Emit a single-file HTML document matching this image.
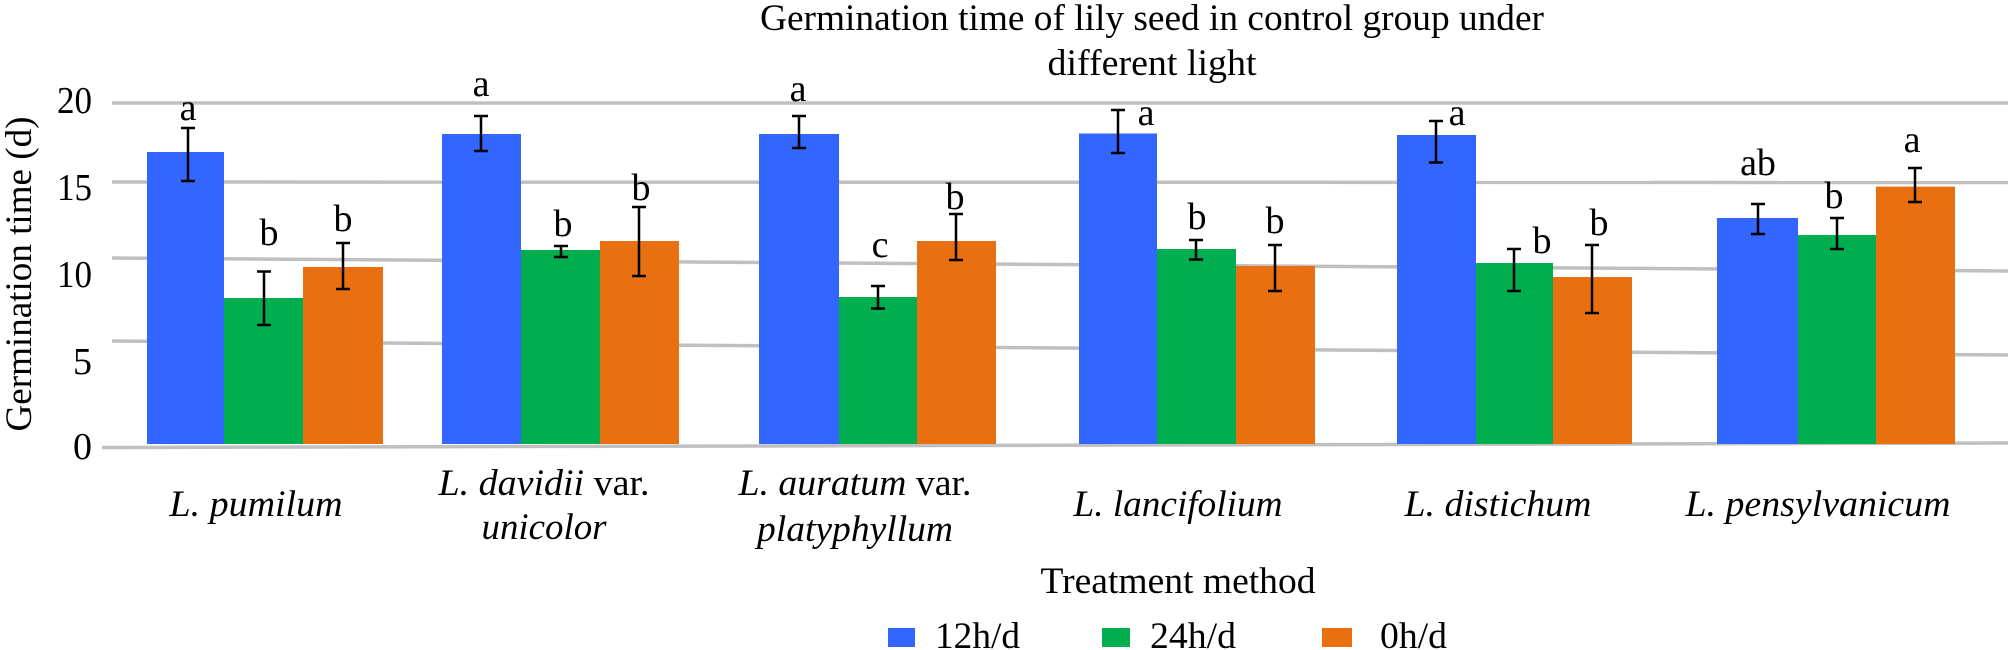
<!DOCTYPE html>
<html><head><meta charset="utf-8"><style>html,body{margin:0;padding:0;background:#fff}svg{display:block}text{font-family:"Liberation Serif",serif;fill:#000}</style></head>
<body>
<svg width="2008" height="650" viewBox="0 0 2008 650" xmlns="http://www.w3.org/2000/svg">
<g stroke="#c0c0c0" stroke-width="3.5">
<line x1="112" y1="103" x2="2008" y2="103"/>
<line x1="112" y1="182" x2="2008" y2="182.5"/>
<line x1="112" y1="258" x2="2008" y2="271"/>
<line x1="112" y1="341" x2="2008" y2="355"/>
<line x1="102" y1="447.5" x2="2008" y2="443"/>
</g>
<text x="1152" y="30" font-size="37" text-anchor="middle" textLength="784" lengthAdjust="spacingAndGlyphs">Germination time of lily seed in control group under</text>
<text x="1152" y="75" font-size="37" text-anchor="middle" textLength="209" lengthAdjust="spacingAndGlyphs">different light</text>
<g font-size="38" text-anchor="end">
<text x="92" y="113" textLength="35" lengthAdjust="spacingAndGlyphs">20</text><text x="92" y="200" textLength="35" lengthAdjust="spacingAndGlyphs">15</text><text x="92" y="287" textLength="35" lengthAdjust="spacingAndGlyphs">10</text><text x="92" y="374">5</text><text x="92" y="459">0</text>
</g>
<text transform="translate(31,274) rotate(-90)" font-size="37" text-anchor="middle" textLength="315" lengthAdjust="spacingAndGlyphs">Germination time (d)</text>
<g>
<rect x="147" y="152" width="77" height="292" fill="#3366ff"/><rect x="224" y="298" width="79" height="146" fill="#00ae4f"/><rect x="303" y="267" width="80" height="177" fill="#e97010"/>
<rect x="442" y="134" width="79" height="310" fill="#3366ff"/><rect x="521" y="250" width="79" height="194" fill="#00ae4f"/><rect x="600" y="241" width="79" height="203" fill="#e97010"/>
<rect x="759" y="134" width="80" height="310" fill="#3366ff"/><rect x="839" y="297" width="78" height="147" fill="#00ae4f"/><rect x="917" y="241" width="79" height="203" fill="#e97010"/>
<rect x="1079" y="133.5" width="78" height="310.5" fill="#3366ff"/><rect x="1157" y="249" width="79" height="195" fill="#00ae4f"/><rect x="1236" y="266" width="79" height="178" fill="#e97010"/>
<rect x="1397" y="135" width="79" height="309" fill="#3366ff"/><rect x="1476" y="263" width="77" height="181" fill="#00ae4f"/><rect x="1553" y="277" width="79" height="167" fill="#e97010"/>
<rect x="1717" y="218" width="81" height="226" fill="#3366ff"/><rect x="1798" y="235" width="78" height="209" fill="#00ae4f"/><rect x="1876" y="186.6" width="79" height="257.4" fill="#e97010"/>
</g>
<g stroke="#000" stroke-width="2.5" fill="none">
<path d="M188 128V181M181 128H195M181 181H195"/>
<path d="M264 271.5V325M257 271.5H271M257 325H271"/>
<path d="M343 243V289M336 243H350M336 289H350"/>
<path d="M481 116V151M474 116H488M474 151H488"/>
<path d="M561 246V257M554 246H568M554 257H568"/>
<path d="M639 207V276M632 207H646M632 276H646"/>
<path d="M799 116V148M792 116H806M792 148H806"/>
<path d="M878 286V308.5M871 286H885M871 308.5H885"/>
<path d="M956 214V260M949 214H963M949 260H963"/>
<path d="M1118 110V153M1111 110H1125M1111 153H1125"/>
<path d="M1196 240V259.5M1189 240H1203M1189 259.5H1203"/>
<path d="M1275 245V291M1268 245H1282M1268 291H1282"/>
<path d="M1436 121V162.5M1429 121H1443M1429 162.5H1443"/>
<path d="M1514 249V291M1507 249H1521M1507 291H1521"/>
<path d="M1592 245V313M1585 245H1599M1585 313H1599"/>
<path d="M1758 204V234M1751 204H1765M1751 234H1765"/>
<path d="M1837 218V249M1830 218H1844M1830 249H1844"/>
<path d="M1915 168V202M1908 168H1922M1908 202H1922"/>
</g>
<g font-size="38" text-anchor="middle">
<text x="188" y="120">a</text><text x="269" y="245">b</text><text x="343" y="231">b</text>
<text x="481" y="96">a</text><text x="563" y="236">b</text><text x="641" y="200">b</text>
<text x="798" y="101">a</text><text x="880" y="257">c</text><text x="955" y="209">b</text>
<text x="1146" y="125">a</text><text x="1197" y="229">b</text><text x="1275" y="233">b</text>
<text x="1457" y="125">a</text><text x="1542" y="253">b</text><text x="1599" y="235">b</text>
<text x="1758" y="175">ab</text><text x="1834" y="208">b</text><text x="1912" y="152">a</text>
</g>
<g font-size="37" text-anchor="middle">
<text x="256" y="516" font-style="italic" textLength="173" lengthAdjust="spacingAndGlyphs">L. pumilum</text>
<text x="544" y="495" textLength="211" lengthAdjust="spacingAndGlyphs"><tspan font-style="italic">L. davidii</tspan> var.</text>
<text x="544" y="539" font-style="italic" textLength="125" lengthAdjust="spacingAndGlyphs">unicolor</text>
<text x="855" y="495" textLength="233" lengthAdjust="spacingAndGlyphs"><tspan font-style="italic">L. auratum</tspan> var.</text>
<text x="855" y="541" font-style="italic" textLength="196" lengthAdjust="spacingAndGlyphs">platyphyllum</text>
<text x="1178" y="516" font-style="italic" textLength="209" lengthAdjust="spacingAndGlyphs">L. lancifolium</text>
<text x="1498" y="516" font-style="italic" textLength="187" lengthAdjust="spacingAndGlyphs">L. distichum</text>
<text x="1818" y="516" font-style="italic" textLength="265" lengthAdjust="spacingAndGlyphs">L. pensylvanicum</text>
<text x="1178" y="593" textLength="275" lengthAdjust="spacingAndGlyphs">Treatment method</text>
</g>
<rect x="888" y="628" width="27" height="19" fill="#3366ff"/>
<rect x="1102" y="628" width="28" height="19" fill="#00ae4f"/>
<rect x="1322" y="628" width="30" height="19" fill="#e97010"/>
<g font-size="37">
<text x="935" y="648" textLength="85" lengthAdjust="spacingAndGlyphs">12h/d</text><text x="1150" y="648" textLength="86" lengthAdjust="spacingAndGlyphs">24h/d</text><text x="1380" y="648" textLength="67" lengthAdjust="spacingAndGlyphs">0h/d</text>
</g>
</svg>
</body></html>
